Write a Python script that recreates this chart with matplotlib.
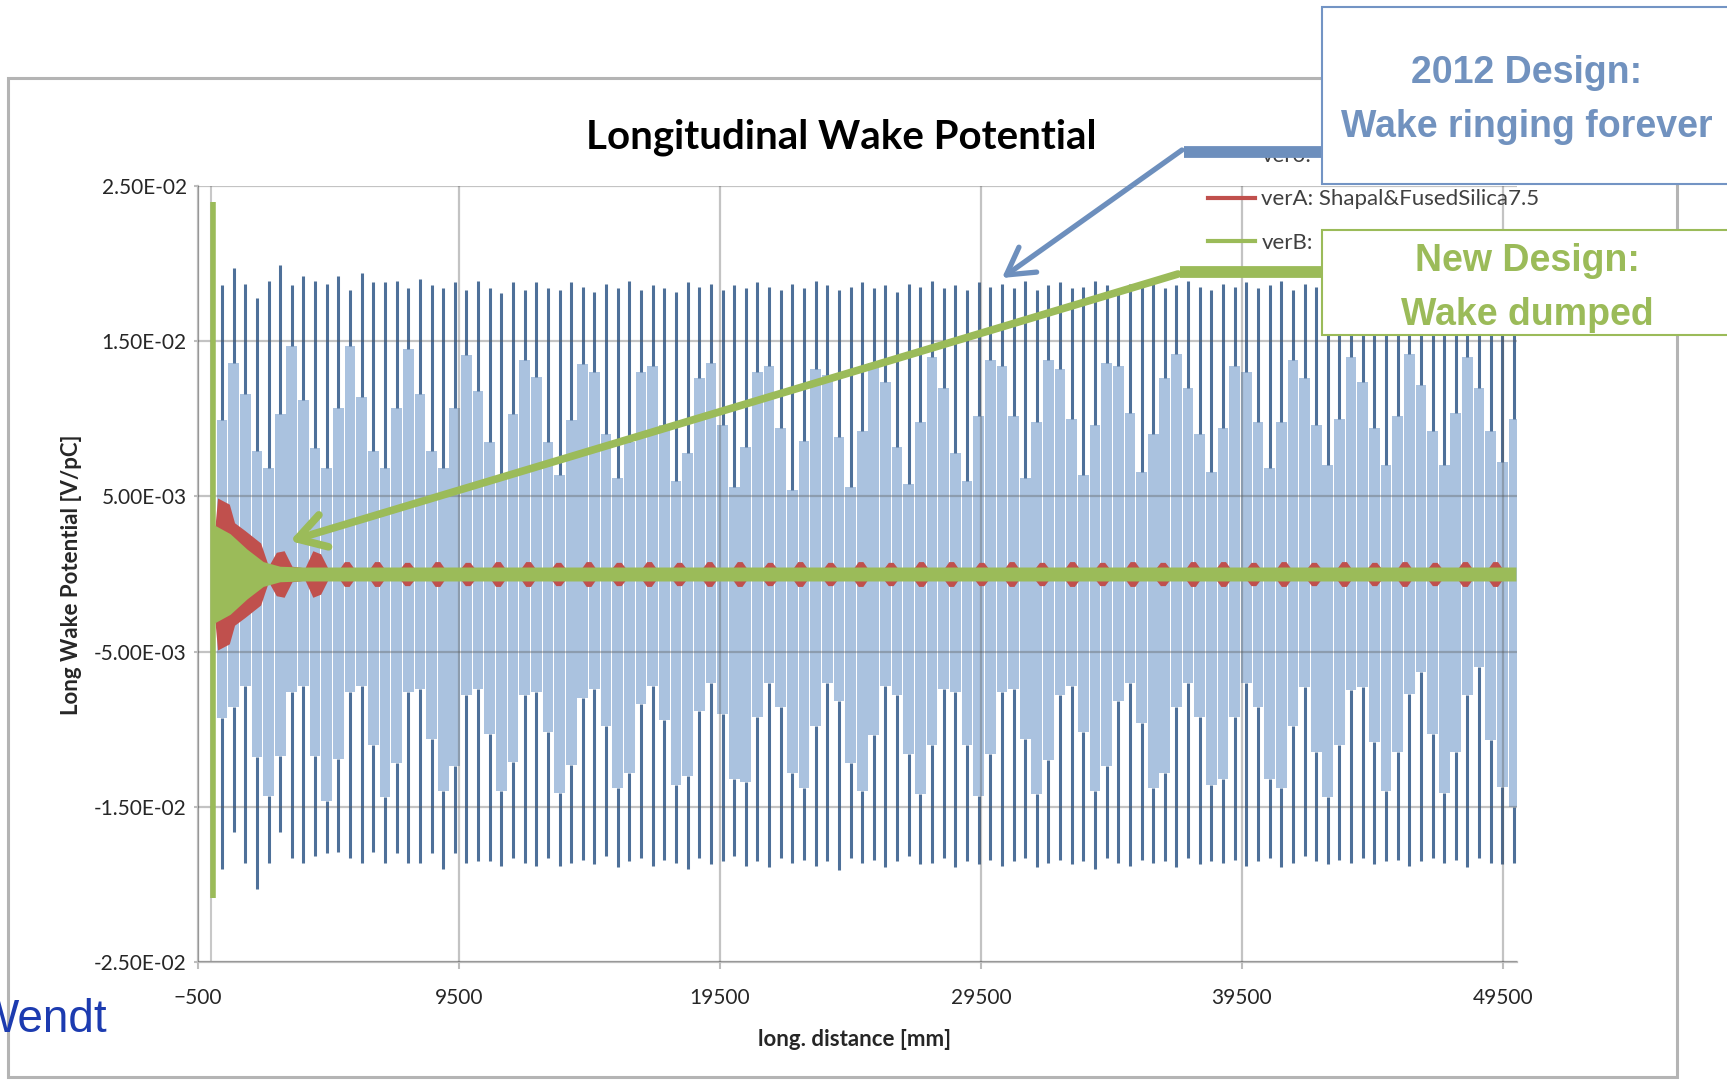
import numpy as np
import matplotlib
matplotlib.use('Agg')
import matplotlib.pyplot as plt
from matplotlib.lines import Line2D
from matplotlib.patches import Rectangle, FancyArrowPatch
from matplotlib.ticker import FuncFormatter

# ---- data (values in 1e-3 V/pC) ----
# 2012 design: dense ringing, one entry per visible spike
spike_x0 = 420      # mm, first spike
spike_step = 446    # mm, spike spacing
blue_top = [18.6, 19.7, 18.7, 17.8, 18.9, 19.9, 18.6, 19.2, 18.9, 18.7, 19.2, 18.3, 19.4, 18.8, 18.8,
            18.9, 18.4, 19.0, 18.6, 18.4, 18.8, 18.3, 18.9, 18.4, 18.1, 18.8, 18.3, 18.8, 18.4, 18.3,
            18.8, 18.5, 18.2, 18.7, 18.4, 18.9, 18.3, 18.6, 18.4, 18.2, 18.8, 18.5, 18.7, 18.3, 18.6,
            18.4, 18.8, 18.5, 18.3, 18.7, 18.4, 18.9, 18.6, 18.3, 18.5, 18.8, 18.4, 18.6, 18.2, 18.7,
            18.5, 18.9, 18.4, 18.6, 18.3, 18.8, 18.5, 18.7, 18.4, 18.9, 18.3, 18.6, 18.8, 18.4, 18.5,
            18.9, 18.6, 18.3, 18.7, 18.5, 18.8, 18.4, 18.6, 18.9, 18.5, 18.3, 18.7, 18.5, 18.8, 18.4,
            18.6, 18.9, 18.3, 18.7, 18.5, 18.8, 18.6, 18.4, 18.9, 18.5, 18.7, 18.4, 18.8, 18.6, 18.3,
            18.7, 18.5, 18.9, 18.6, 18.4, 18.8, 18.5]
blue_up_edge = [9.9, 13.6, 11.6, 7.9, 6.8, 10.3, 14.7, 11.2, 8.1, 6.8, 10.7, 14.7, 11.4, 7.9, 6.8,
                10.7, 14.5, 11.6, 7.9, 6.8, 10.7, 14.1, 11.8, 8.5, 6.4, 10.3, 13.8, 12.7, 8.5, 6.4,
                9.9, 13.5, 13.0, 9.0, 6.2, 8.5, 13.0, 13.4, 9.6, 6.0, 7.8, 12.6, 13.6, 9.6, 5.6,
                8.2, 13.0, 13.4, 9.4, 5.4, 8.6, 13.2, 12.8, 8.8, 5.6, 9.2, 13.6, 12.4, 8.2, 5.8,
                9.8, 14.0, 12.0, 7.8, 6.0, 10.2, 13.8, 13.4, 10.2, 6.2, 9.8, 13.8, 13.2, 10.0, 6.4,
                9.6, 13.6, 13.4, 10.4, 6.6, 9.0, 12.6, 14.2, 12.0, 9.0, 6.6, 9.4, 13.4, 13.0, 9.8,
                6.8, 9.8, 13.8, 12.6, 9.6, 7.0, 10.0, 14.0, 12.4, 9.4, 7.0, 10.2, 14.2, 12.2, 9.2,
                7.0, 10.4, 14.0, 12.0, 9.2, 7.2, 10.0]
blue_lo_edge = [-9.3, -8.6, -7.2, -11.8, -14.3, -11.7, -7.6, -7.2, -11.7, -14.6, -11.9, -7.6, -7.2, -11.0, -14.4,
                -12.2, -7.6, -7.4, -10.6, -14.0, -12.4, -7.8, -7.4, -10.3, -14.0, -12.1, -7.8, -7.6, -10.2, -14.1,
                -12.3, -8.0, -7.4, -9.8, -13.8, -12.8, -8.4, -7.2, -9.4, -13.6, -13.0, -8.8, -7.0, -9.0, -13.2,
                -13.4, -9.2, -7.0, -8.6, -12.8, -13.8, -9.8, -7.0, -8.2, -12.2, -14.0, -10.4, -7.2, -7.8, -11.6,
                -14.2, -11.0, -7.4, -7.6, -11.0, -14.3, -11.6, -7.6, -7.4, -10.6, -14.2, -12.0, -7.8, -7.2, -10.2,
                -14.0, -12.4, -8.2, -7.0, -9.6, -13.8, -12.8, -8.6, -7.0, -9.2, -13.6, -13.2, -9.2, -7.0, -8.6,
                -13.2, -13.8, -9.8, -7.3, -11.5, -14.4, -11.0, -7.5, -7.3, -10.8, -14.0, -11.5, -7.7, -6.3, -10.3,
                -14.1, -11.5, -7.8, -6.0, -10.7, -13.7, -15.0]
blue_bot = [-19.0, -16.6, -18.6, -20.3, -18.6, -16.6, -18.3, -18.6, -18.2, -18.0, -17.9, -18.3, -18.6, -17.9, -18.6,
            -18.0, -18.6, -18.6, -18.0, -19.0, -18.0, -18.6, -18.5, -18.5, -18.8, -18.3, -18.6, -18.8, -18.3, -18.8,
            -18.6, -18.4, -18.7, -18.2, -18.9, -18.5, -18.3, -18.8, -18.4, -18.6, -19.0, -18.3, -18.7, -18.5, -18.2,
            -18.8, -18.5, -18.9, -18.3, -18.6, -18.4, -18.8, -18.5, -19.1, -18.3, -18.6, -18.4, -18.9, -18.5, -18.2,
            -18.7, -18.6, -18.3, -18.9, -18.5, -18.7, -18.4, -18.8, -18.5, -18.3, -18.9, -18.6, -18.4, -18.7, -18.5,
            -19.0, -18.3, -18.6, -18.8, -18.4, -18.6, -18.5, -18.9, -18.3, -18.7, -18.5, -18.6, -18.4, -18.8, -18.5,
            -18.3, -18.9, -18.6, -18.2, -18.5, -18.7, -18.4, -18.6, -18.3, -18.7, -18.5, -18.4, -18.8, -18.5, -18.3,
            -18.6, -18.4, -18.9, -18.3, -18.6, -18.7, -18.6]

# verA: damped wake, envelope of the start and of the later small bursts
red_early_x = [0, 250, 700, 900, 1300, 1900, 2200, 2500, 2800, 3100, 3600, 3900, 4200, 4500]
red_early_amp = [0.3, 4.9, 4.5, 3.3, 2.8, 2.0, 0.5, 1.4, 1.5, 0.5, 0.4, 1.5, 1.3, 0.3]
red_burst_x0 = 5200
red_burst_step = 1158
red_burst_amp = [0.8, 0.8, 0.75, 0.8, 0.75, 0.8, 0.8, 0.75, 0.8, 0.75, 0.8, 0.75, 0.8, 0.8, 0.75,
                 0.8, 0.75, 0.8, 0.75, 0.8, 0.8, 0.75, 0.8, 0.75, 0.8, 0.75, 0.8, 0.75, 0.8, 0.8,
                 0.75, 0.8, 0.75, 0.8, 0.75, 0.8, 0.75, 0.8, 0.8]

# verB: new design, wake damped
green_x = [0, 80, 730, 1380, 2000, 2640, 3500, 50000]
green_amp = [3.2, 3.2, 2.6, 1.6, 0.8, 0.5, 0.45, 0.45]
green_spike_x = 80
green_spike_lo, green_spike_hi = -20.9, 24.0

xticks = [-500, 9500, 19500, 29500, 39500, 49500]
yticks = [-0.025, -0.015, -0.005, 0.005, 0.015, 0.025]

# ---- figure ----
W, H = 1727, 1080
plt.rcParams['font.family'] = ['Lato', 'DejaVu Sans']


def fx(x):
    return x / W


def fy(y):
    return 1 - y / H


fig = plt.figure(figsize=(W / 100, H / 100), dpi=100)
fig.patch.set_facecolor('white')

# chart frame
fig.add_artist(Rectangle((fx(8), fy(1077)), fx(1677 - 8), (1077 - 78) / H, transform=fig.transFigure,
                         fill=False, ec='#b4b4b4', lw=2.2, zorder=0))

ax = fig.add_axes([fx(198), fy(962), (1517 - 198) / W, (962 - 186) / H])

sx = spike_x0 + spike_step * np.arange(len(blue_top))
top = np.array(blue_top) * 1e-3
upe = np.array(blue_up_edge) * 1e-3
loe = np.array(blue_lo_edge) * 1e-3
bot = np.array(blue_bot) * 1e-3

ax.bar(sx, upe - loe, bottom=loe, width=spike_step * 0.92, color='#aac2df', linewidth=0, zorder=1)
ax.vlines(sx, upe, top, color='#4e7099', lw=2.2, zorder=1.5)
ax.vlines(sx, bot, loe, color='#4e7099', lw=2.2, zorder=1.5)

# red envelope
rx = list(red_early_x)
ra = list(red_early_amp)
for i, a in enumerate(red_burst_amp):
    c = red_burst_x0 + red_burst_step * i
    rx += [c - 300, c - 90, c + 90, c + 300]
    ra += [0.3, a, a, 0.3]
rx = np.array(rx)
ra = np.array(ra) * 1e-3
ax.fill_between(rx, -ra, ra, color='#c0504d', lw=0, zorder=3)

ga = np.array(green_amp) * 1e-3
ax.fill_between(green_x, -ga, ga, color='#9bbb59', lw=0, zorder=4)
ax.vlines(green_spike_x, green_spike_lo * 1e-3, green_spike_hi * 1e-3, color='#9bbb59', lw=4, zorder=4)

ax.axvline(0, color='#c8c8c8', lw=1.5, zorder=0.5)

ax.set_xlim(-500, 50040)
ax.set_ylim(-0.025, 0.025)
ax.set_xticks(xticks)
ax.set_yticks(yticks)
ax.yaxis.set_major_formatter(FuncFormatter(lambda v, p: f'{v:.2E}'))
ax.set_axisbelow(False)
ax.grid(True, color='#555555', alpha=0.35, lw=1.6)
for s in ['top', 'right']:
    ax.spines[s].set_visible(False)
for s in ['left', 'bottom']:
    ax.spines[s].set_color('#bdbdbd')
    ax.spines[s].set_linewidth(1.6)
ax.tick_params(axis='x', length=5, width=1.5, color='#bdbdbd', pad=13.5, labelsize=15, labelcolor='#262626')
ax.tick_params(axis='y', length=3, width=1.5, color='#bdbdbd', pad=5, labelsize=15, labelcolor='#262626')

ax.set_xlabel('long. distance [mm]', fontsize=16, fontweight='bold', color='#262626')
ax.xaxis.set_label_coords((855 - 198) / 1319, -(1040 - 962) / 776)
ax.xaxis.label.set_va('center')
ax.set_ylabel('Long Wake Potential [V/pC]', fontsize=16, fontweight='bold', color='#262626')
ax.yaxis.set_label_coords((72 - 198) / 1319, (962 - 575) / 776)
ax.yaxis.label.set_va('center')

fig.text(fx(841), fy(137), 'Longitudinal Wake Potential', ha='center', va='center',
         fontsize=29, fontweight='bold', color='black')

# legend: only the visible starts of the first and last labels show in the reference
handles = [Line2D([], [], color='#4f81bd', lw=3),
           Line2D([], [], color='#c0504d', lw=3),
           Line2D([], [], color='#9bbb59', lw=3)]
labels = ['ver0:', 'verA: Shapal&FusedSilica7.5', 'verB:']
fig.legend(handles, labels, loc='upper left', bbox_to_anchor=(fx(1208), fy(146)),
           bbox_transform=fig.transFigure, frameon=False, fontsize=16, borderpad=0,
           borderaxespad=0, handlelength=2.1, handletextpad=0.3, labelspacing=1.05,
           labelcolor='#404040')

# annotation boxes
blue_c = '#6d8fbd'
green_c = '#9bbb59'
fig.add_artist(Rectangle((fx(1322), fy(184)), fx(1760 - 1322), (184 - 7) / H, transform=fig.transFigure,
                         fc='white', ec='#7394c4', lw=1.5, zorder=10))
fig.add_artist(Rectangle((fx(1322), fy(335)), fx(1760 - 1322), (335 - 230) / H, transform=fig.transFigure,
                         fc='white', ec=green_c, lw=1.5, zorder=10))
box_font = dict(family=['Liberation Sans', 'DejaVu Sans'], fontsize=27, fontweight='bold',
                ha='center', va='center', zorder=11)
fig.text(fx(1527), fy(73), '2012 Design:', color='#7192bf', **box_font)
fig.text(fx(1527), fy(127), 'Wake ringing forever', color='#7192bf', **box_font)
fig.text(fx(1527), fy(261), 'New Design:', color=green_c, **box_font)
fig.text(fx(1527), fy(315), 'Wake dumped', color=green_c, **box_font)

# connector arrows
fig.add_artist(Line2D([fx(1184), fx(1322)], [fy(152), fy(152)], transform=fig.transFigure,
                      color=blue_c, lw=8.5, solid_capstyle='butt', zorder=9))
fig.add_artist(FancyArrowPatch((fx(1182), fy(150)), (fx(1002), fy(278)), transform=fig.transFigure,
                               arrowstyle='->,head_length=0.95,head_width=0.55', mutation_scale=20,
                               color=blue_c, lw=3.8, shrinkA=0, shrinkB=0, zorder=9))
fig.add_artist(Line2D([fx(1180), fx(1322)], [fy(272), fy(272)], transform=fig.transFigure,
                      color=green_c, lw=8.5, solid_capstyle='butt', zorder=9))
fig.add_artist(FancyArrowPatch((fx(1178), fy(274)), (fx(290), fy(541)), transform=fig.transFigure,
                               arrowstyle='->,head_length=1.0,head_width=0.6', mutation_scale=20,
                               color=green_c, lw=5.5, shrinkA=0, shrinkB=0, zorder=9))

fig.text(fx(107), fy(1032), 'Wendt', ha='right', va='baseline', fontsize=33,
         family=['Liberation Sans', 'DejaVu Sans'], color='#1c3bb0')

fig.savefig('out.png', dpi=100)
